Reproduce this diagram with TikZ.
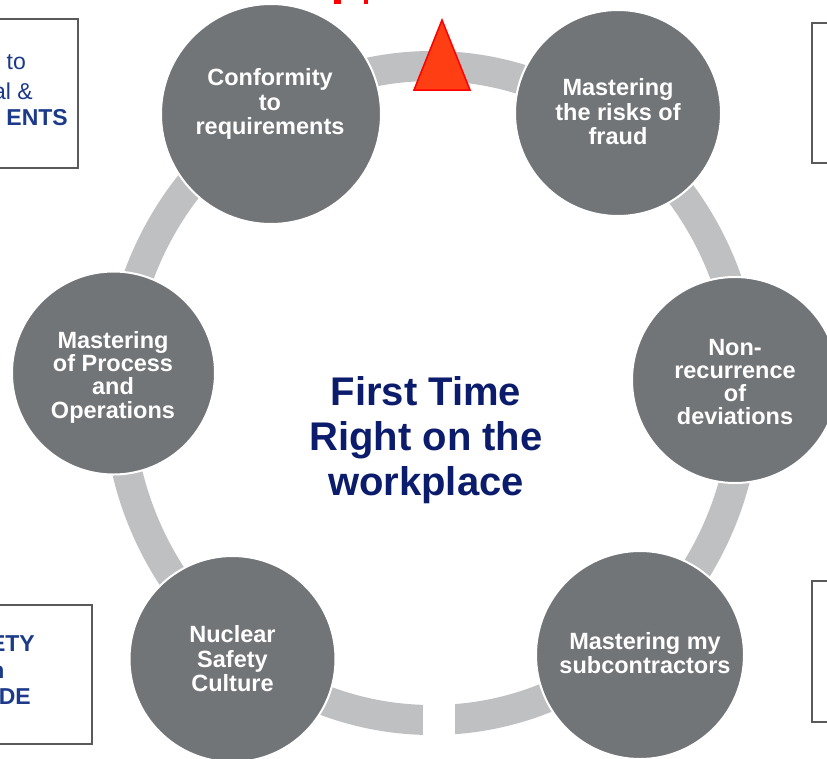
\documentclass[tikz,border=0pt]{standalone}
\usepackage{fontspec}
\setmainfont{Liberation Sans}
\definecolor{bubblegray}{RGB}{114,117,120}
\definecolor{ringgray}{RGB}{191,192,194}
\definecolor{navytext}{RGB}{12,28,108}
\definecolor{boxblue}{RGB}{28,58,138}
\definecolor{boxgray}{RGB}{90,90,90}
\definecolor{triorange}{RGB}{255,62,20}
\tikzset{
  bubble/.style={circle, fill=bubblegray, draw=white, line width=2pt, inner sep=0pt, minimum size=#1},
  btext/.style={text=white, align=center, inner sep=0pt, font=\fontsize{23.5}{24.5}\selectfont\bfseries},
  btextfour/.style={btext, font=\fontsize{23.5}{23.3}\selectfont\bfseries},
  ring/.style={draw=ringgray, line width=30pt},
  boxline/.style={draw=boxgray, line width=2pt},
  boxtext/.style={text=boxblue, anchor=east, inner sep=0pt, font=\fontsize{23}{26}\selectfont},
  boxbold/.style={boxtext, font=\fontsize{23}{26}\selectfont\bfseries},
  ctext/.style={text=navytext, align=center, inner sep=0pt, font=\fontsize{40}{45}\selectfont\bfseries}
}
\begin{document}
\begin{tikzpicture}[x=1pt,y=-1pt]
\useasboundingbox (0,0) rectangle (827,758);
\clip (0,0) rectangle (827,758);
\fill[white] (0,0) rectangle (827,758);

% red fragments of cut-off text at top edge
\fill[red] (334,0) rectangle (341,4);
\fill[red] (364,0) rectangle (368,4);

% side boxes (mostly outside the picture)
\draw[boxline] (-20,19) rectangle (78,168);
\node[boxtext] (lt1) at (26,62) {to};
\node[boxtext] (lt2) at (33,91) {al \&};
\node[boxbold] (lt3) at (68,118) {ENTS};

\draw[boxline] (-20,605) rectangle (92,744);
\node[boxbold] (lb1) at (35,644) {ETY};
\node[boxbold] (lb2) at (4.5,672) {n};
\node[boxbold] (lb3) at (31,697) {DE};

\draw[boxline] (812,23) rectangle (850,163);
\draw[boxline] (812,581) rectangle (850,722);

% ring
\draw[ring] (432,393) ellipse [x radius=314, y radius=327];
\fill[white] (423,690) rectangle (455,752);

% triangle marker
\draw[fill=triorange, draw=red, line width=1.5pt] (442,20) -- (470,90) -- (414,90) -- cycle;

% bubbles
\node[bubble=220pt] (c1) at (271,114) {};
\node[bubble=206pt] (c2) at (618,113) {};
\node[bubble=206pt] (c3) at (735,380) {};
\node[bubble=203pt] (c4) at (113.5,373) {};
\node[bubble=206pt] (c5) at (232.5,659) {};
\node[bubble=208pt] (c6) at (640,655) {};

\node[btext] (t1) at (270,104) {Conformity\\to\\requirements};
\node[btext] (t2) at (618,112) {Mastering\\the risks of\\fraud};
\node[btextfour] (t3) at (735,382) {Non-\\recurrence\\of\\deviations};
\node[btextfour] (t4) at (113,377) {Mastering\\of Process\\and\\Operations};
\node[btext] (t5) at (232.5,659) {Nuclear\\Safety\\Culture};
\node[btext] (t6) at (645,653) {Mastering my\\subcontractors};

% centre title
\node[ctext] (title) at (426,440) {First Time\\Right on the\\workplace};
\end{tikzpicture}
\end{document}
